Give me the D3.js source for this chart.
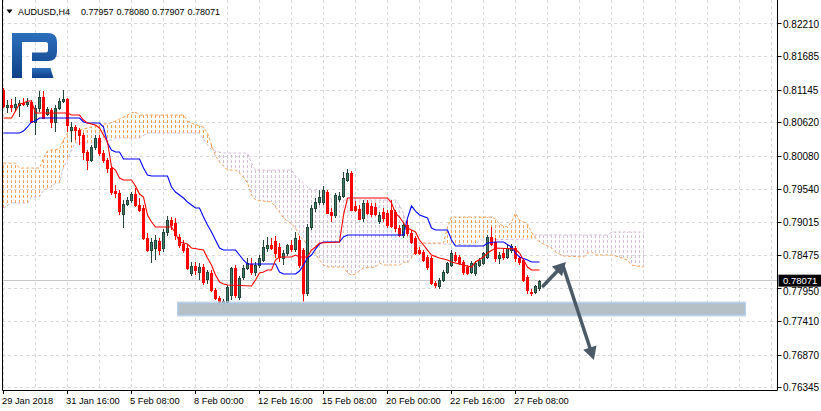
<!DOCTYPE html>
<html><head><meta charset="utf-8">
<script src="https://cdn.jsdelivr.net/npm/d3@7"></script>
<style>
body{margin:0;background:#fff}
svg{display:block}
text{font-family:"Liberation Sans",Arial,sans-serif;fill:#000}
</style>
</head><body><svg id="c" width="821" height="411"></svg>
<script>
// ---------- DATA ----------
const symbol = "AUDUSD,H4";
const headerValues = ["0.77957","0.78080","0.77907","0.78071"];
const lastPrice = 0.78071;
const priceTicks = [0.82210,0.81685,0.81145,0.80620,0.80080,0.79540,0.79015,0.78475,0.77950,0.77410,0.76870,0.76345];
const timeTickBars = [0,16,32,48,64,80,96,112,128];
const timeTickLabels = ["29 Jan 2018","31 Jan 16:00","5 Feb 08:00","8 Feb 00:00","12 Feb 16:00","15 Feb 08:00","20 Feb 00:00","22 Feb 16:00","27 Feb 08:00"];

const opens = [0.81146,0.80872,0.80904,0.80872,0.80904,0.80936,0.80920,0.80952,0.80630,0.80855,
0.81033,0.80759,0.80823,0.80630,0.80855,0.80968,0.81001,0.80501,0.80549,0.80501,
0.80420,0.80146,0.80017,0.80226,0.80371,0.80129,0.80017,0.79887,0.79517,0.79484,
0.79146,0.79307,0.79372,0.79468,0.79291,0.79243,0.78759,0.78565,0.78597,0.78710,
0.78597,0.78856,0.79049,0.79001,0.78775,0.78662,0.78597,0.78195,0.78307,0.78211,
0.78291,0.78098,0.78195,0.77920,0.77791,0.77694,0.77727,0.77840,0.78275,0.77807,
0.78130,0.78275,0.78339,0.78211,0.78323,0.78404,0.78597,0.78646,0.78710,0.78614,
0.78436,0.78517,0.78646,0.78581,0.78727,0.78565,0.77872,0.78936,0.79243,0.79339,
0.79339,0.79500,0.79178,0.79130,0.79388,0.79436,0.79694,0.79807,0.79275,0.79226,
0.79081,0.79323,0.79275,0.79259,0.79033,0.79178,0.79162,0.79210,0.79178,0.78920,
0.78807,0.78968,0.78840,0.78759,0.78565,0.78533,0.78452,0.78436,0.78033,0.77985,
0.78082,0.78211,0.78323,0.78485,0.78452,0.78372,0.78291,0.78211,0.78195,0.78323,
0.78356,0.78452,0.78775,0.78694,0.78436,0.78517,0.78452,0.78565,0.78597,0.78436,
0.78404,0.78130,0.77888,0.77888,0.77957];
const highs = [0.81178,0.80984,0.81001,0.81033,0.80984,0.81017,0.81017,0.80984,0.80904,0.81130,
0.81130,0.80872,0.80855,0.80904,0.81017,0.81146,0.81017,0.80630,0.80581,0.80533,
0.80452,0.80178,0.80258,0.80420,0.80420,0.80178,0.80049,0.79920,0.79613,0.79533,
0.79372,0.79420,0.79500,0.79565,0.79404,0.79291,0.78840,0.78759,0.78807,0.78759,
0.78904,0.79114,0.79097,0.79081,0.78823,0.78727,0.78646,0.78372,0.78372,0.78356,
0.78339,0.78243,0.78243,0.77953,0.77824,0.77775,0.78001,0.78291,0.78323,0.78146,
0.78323,0.78436,0.78436,0.78372,0.78485,0.78727,0.78775,0.78759,0.78791,0.78678,
0.78565,0.78662,0.78727,0.78856,0.78791,0.78597,0.78985,0.79291,0.79404,0.79533,
0.79597,0.79533,0.79243,0.79484,0.79500,0.79823,0.79871,0.79839,0.79355,0.79291,
0.79372,0.79372,0.79323,0.79323,0.79178,0.79243,0.79210,0.79372,0.79210,0.78968,
0.79017,0.79049,0.78888,0.78791,0.78614,0.78565,0.78485,0.78469,0.78065,0.78114,
0.78243,0.78372,0.78565,0.78533,0.78485,0.78404,0.78323,0.78388,0.78388,0.78436,
0.78533,0.78807,0.78936,0.78759,0.78533,0.78597,0.78646,0.78662,0.78630,0.78469,
0.78436,0.78162,0.77936,0.78001,0.78080];
const lows = [0.80855,0.80775,0.80791,0.80791,0.80710,0.80888,0.80872,0.80613,0.80420,0.80791,
0.80678,0.80726,0.80533,0.80468,0.80823,0.80936,0.80468,0.80307,0.80339,0.80258,
0.80017,0.79855,0.79984,0.80178,0.80081,0.79968,0.79807,0.79452,0.79404,0.79130,
0.78920,0.79275,0.79323,0.79259,0.79178,0.78727,0.78533,0.78356,0.78404,0.78485,
0.78533,0.78791,0.78888,0.78727,0.78597,0.78517,0.78243,0.78146,0.78162,0.78082,
0.78001,0.78017,0.77888,0.77759,0.77662,0.77598,0.77662,0.77759,0.77791,0.77759,
0.78082,0.78243,0.78162,0.78146,0.78275,0.78372,0.78533,0.78565,0.78436,0.78372,
0.78323,0.78469,0.78533,0.78533,0.78275,0.77727,0.77824,0.78888,0.79178,0.79291,
0.79291,0.79146,0.79017,0.79081,0.79339,0.79404,0.79662,0.79194,0.79178,0.79049,
0.79017,0.79130,0.79097,0.79114,0.78985,0.79017,0.78920,0.78920,0.78856,0.78775,
0.78759,0.78791,0.78662,0.78485,0.78485,0.78372,0.78243,0.78001,0.77953,0.77936,
0.78049,0.78178,0.78291,0.78372,0.78323,0.78162,0.78162,0.78178,0.78146,0.78291,
0.78323,0.78420,0.78630,0.78372,0.78339,0.78404,0.78420,0.78517,0.78372,0.78323,
0.78049,0.77856,0.77824,0.77856,0.77907];
const closes = [0.80888,0.80904,0.80872,0.80920,0.80936,0.80920,0.80952,0.80630,0.80855,0.81033,
0.80694,0.80839,0.80630,0.80855,0.80968,0.81001,0.80581,0.80549,0.80501,0.80420,
0.80146,0.80017,0.80226,0.80371,0.80129,0.80017,0.79887,0.79500,0.79484,0.79194,
0.79307,0.79372,0.79468,0.79291,0.79210,0.78759,0.78565,0.78694,0.78727,0.78565,
0.78856,0.79049,0.78968,0.78807,0.78646,0.78565,0.78275,0.78307,0.78243,0.78291,
0.78049,0.78211,0.77920,0.77791,0.77694,0.77743,0.77969,0.78275,0.77840,0.78114,
0.78275,0.78356,0.78211,0.78323,0.78436,0.78614,0.78646,0.78597,0.78517,0.78452,
0.78517,0.78646,0.78581,0.78759,0.78323,0.77872,0.78936,0.79243,0.79339,0.79420,
0.79533,0.79162,0.79130,0.79452,0.79436,0.79726,0.79807,0.79210,0.79210,0.79065,
0.79323,0.79162,0.79146,0.79146,0.79130,0.79081,0.78968,0.78952,0.78920,0.78807,
0.78968,0.78840,0.78694,0.78517,0.78517,0.78404,0.78291,0.78033,0.78001,0.78082,
0.78211,0.78356,0.78517,0.78404,0.78356,0.78211,0.78195,0.78356,0.78356,0.78404,
0.78517,0.78775,0.78662,0.78436,0.78485,0.78452,0.78597,0.78630,0.78436,0.78372,
0.78082,0.77920,0.77872,0.77985,0.78071];

// Ichimoku lines as [bar, price] vertices
const tenkan = [[0,0.80694],[2,0.80694],[3,0.80807],[4,0.80920],[5,0.80936],[6,0.80968],[7,0.80968],[8,0.80775],[16,0.80775],[17,0.80742],[19,0.80742],[20,0.80662],[21,0.80613],[23,0.80581],[24,0.80533],[25,0.80420],[26,0.80307],[27,0.79904],[28,0.79855],[29,0.79726],[30,0.79694],[32,0.79694],[33,0.79597],[34,0.79468],[35,0.79420],[36,0.79130],[37,0.79017],[38,0.78936],[42,0.78936],[43,0.78840],[44,0.78694],[46,0.78662],[47,0.78597],[50,0.78565],[51,0.78436],[52,0.78323],[53,0.78162],[54,0.78049],[55,0.78017],[56,0.78001],[62,0.77985],[63,0.78082],[64,0.78195],[65,0.78211],[66,0.78243],[67,0.78243],[68,0.78404],[69,0.78452],[72,0.78452],[73,0.78485],[74,0.78452],[76,0.78452],[77,0.78565],[78,0.78614],[79,0.78678],[84,0.78694],[85,0.79130],[86,0.79404],[96,0.79404],[97,0.79323],[98,0.79162],[99,0.79097],[100,0.79001],[101,0.78920],[102,0.78888],[103,0.78856],[104,0.78727],[105,0.78646],[106,0.78565],[107,0.78485],[109,0.78436],[111,0.78404],[112,0.78372],[117,0.78291],[118,0.78372],[120,0.78452],[121,0.78517],[123,0.78597],[128,0.78581],[129,0.78517],[130,0.78404],[131,0.78291],[132,0.78243],[134,0.78243]];
const kijun = [[0,0.80452],[4,0.80452],[5,0.80484],[6,0.80549],[7,0.80630],[8,0.80646],[9,0.80694],[19,0.80694],[20,0.80630],[21,0.80613],[24,0.80613],[25,0.80549],[26,0.80291],[27,0.80178],[28,0.80146],[29,0.80146],[30,0.80033],[34,0.80033],[35,0.79887],[36,0.79775],[37,0.79758],[41,0.79758],[42,0.79581],[43,0.79500],[44,0.79452],[45,0.79404],[46,0.79339],[47,0.79291],[48,0.79243],[49,0.79243],[50,0.79097],[51,0.78968],[52,0.78856],[53,0.78727],[54,0.78597],[55,0.78565],[58,0.78565],[59,0.78485],[60,0.78404],[61,0.78339],[68,0.78339],[69,0.78211],[70,0.78178],[73,0.78178],[74,0.78227],[75,0.78323],[76,0.78436],[77,0.78485],[78,0.78581],[79,0.78662],[80,0.78694],[84,0.78694],[85,0.78775],[86,0.78807],[100,0.78807],[101,0.79081],[102,0.79275],[103,0.79194],[104,0.79130],[106,0.79081],[107,0.78920],[108,0.78888],[111,0.78888],[112,0.78727],[113,0.78630],[120,0.78630],[121,0.78678],[123,0.78694],[125,0.78694],[127,0.78614],[128,0.78517],[129,0.78452],[131,0.78404],[132,0.78372],[134,0.78372]];
const spanA = [[0,0.79968],[3,0.79968],[4,0.79887],[9,0.79887],[10,0.80049],[11,0.80162],[12,0.80178],[14,0.80194],[15,0.80339],[16,0.80452],[17,0.80484],[19,0.80501],[20,0.80517],[22,0.80549],[24,0.80597],[26,0.80597],[28,0.80646],[29,0.80678],[30,0.80710],[32,0.80775],[33,0.80791],[34,0.80742],[45,0.80742],[46,0.80646],[47,0.80613],[49,0.80565],[50,0.80549],[51,0.80452],[52,0.80258],[53,0.80081],[54,0.79984],[55,0.79920],[56,0.79855],[58,0.79855],[59,0.79807],[60,0.79742],[61,0.79646],[62,0.79452],[63,0.79372],[67,0.79339],[68,0.79259],[69,0.79178],[70,0.79081],[71,0.79033],[72,0.78985],[73,0.78920],[74,0.78791],[75,0.78727],[76,0.78646],[77,0.78565],[78,0.78501],[79,0.78404],[80,0.78323],[81,0.78291],[85,0.78291],[86,0.78195],[87,0.78162],[88,0.78178],[89,0.78227],[90,0.78275],[93,0.78291],[94,0.78356],[95,0.78323],[99,0.78323],[100,0.78372],[101,0.78356],[102,0.78436],[103,0.78565],[104,0.78614],[105,0.78678],[110,0.78678],[111,0.78936],[112,0.79097],[122,0.79097],[123,0.79065],[124,0.78985],[125,0.78952],[126,0.78936],[127,0.79017],[128,0.79162],[129,0.79049],[130,0.79017],[131,0.78985],[132,0.78856],[133,0.78759],[134,0.78694],[136,0.78630],[137,0.78597],[138,0.78533],[140,0.78469],[145,0.78452],[146,0.78517],[147,0.78533],[148,0.78485],[152,0.78485],[154,0.78452],[156,0.78404],[157,0.78323],[160,0.78291]];
const spanB = [[0,0.79243],[2,0.79323],[6,0.79323],[7,0.79420],[9,0.79420],[10,0.79533],[12,0.79581],[13,0.79646],[14,0.79646],[15,0.79904],[16,0.80017],[17,0.80178],[18,0.80291],[24,0.80291],[25,0.80339],[27,0.80339],[28,0.80371],[34,0.80371],[36,0.80452],[49,0.80452],[51,0.80258],[52,0.80178],[55,0.80129],[61,0.80129],[62,0.79968],[63,0.79855],[72,0.79855],[73,0.79758],[74,0.79694],[75,0.79646],[77,0.79533],[79,0.79500],[81,0.79500],[82,0.79372],[98,0.79372],[99,0.79291],[100,0.79162],[101,0.78888],[102,0.78678],[118,0.78646],[119,0.78727],[132,0.78743],[133,0.78807],[151,0.78807],[152,0.78856],[160,0.78856]];

// Support zone and arrows (bar, price)
const zoneBars = [43.6, 185.4];
const zonePrices = [0.77711, 0.77517];
const arrowUp = [[134.9, 0.77985],[140.6, 0.78372]];
const arrowDown = [[139.9, 0.78307],[147.6, 0.76792]];

// ---------- DRAW ----------
const svg = d3.select("#c");
const x = d3.scaleLinear().domain([0,192]).range([3.5,771.5]);
const y = d3.scaleLinear().domain([0.76308,0.82597]).range([390,0]);
const plotL = 2, plotR = 777.5, plotB = 390;
const crisp = v => Math.round(v) + 0.5;
const orange = "#f4a460", thistle = "#d8bfd8";

svg.append("rect").attr("width",821).attr("height",411).attr("fill","#fff");
const defs = svg.append("defs");

// grid
const grid = svg.append("g").attr("stroke","#d9d9d9").attr("stroke-dasharray","3,3").attr("stroke-width",1);
grid.selectAll(null).data(priceTicks).join("line")
  .attr("x1",plotL).attr("x2",plotR).attr("y1",d=>crisp(y(d)-0.5)).attr("y2",d=>crisp(y(d)-0.5));
grid.selectAll(null).data(d3.range(0,193,8)).join("line")
  .attr("x1",d=>x(d)).attr("x2",d=>x(d)).attr("y1",0).attr("y2",plotB);

// position of a polyline (given by its read vertices) at a bar column
function at(series, i){
  for(let k=0;k<series.length-1;k++){
    const [i0,v0]=series[k],[i1,v1]=series[k+1];
    if(i>=i0 && i<=i1) return i1===i0 ? v0 : v0+(v1-v0)*(i-i0)/(i1-i0);
  }
  return series[series.length-1][1];
}
// cloud hatch: one dotted vertical stroke per bar between the two spans
const cloudBars = d3.range(spanA[0][0], spanA[spanA.length-1][0]+1).map(i=>{
  const a=y(at(spanA,i)), b=y(at(spanB,i));
  return {i, top:Math.round(Math.min(a,b)), bot:Math.round(Math.max(a,b)), up:a<=b};
});
svg.append("g").selectAll("line").data(cloudBars).join("line")
  .attr("x1",d=>x(d.i)).attr("x2",d=>x(d.i))
  .attr("y1",d=>d.top).attr("y2",d=>d.bot)
  .attr("stroke",d=>d.up?orange:thistle)
  .attr("stroke-dasharray","3,2")
  .attr("stroke-dashoffset",d=>d.top%5);
const ln = d3.line().x(d=>x(d[0])).y(d=>y(d[1]));
svg.append("path").attr("d",ln(spanB)).attr("fill","none").attr("stroke",thistle).attr("stroke-dasharray","3,2");
svg.append("path").attr("d",ln(spanA)).attr("fill","none").attr("stroke",orange).attr("stroke-dasharray","3,2");

// current price line
svg.append("line").attr("x1",plotL).attr("x2",plotR).attr("y1",crisp(y(lastPrice)-0.5)).attr("y2",crisp(y(lastPrice)-0.5))
  .attr("stroke","#c8c8c8");

// candles
const bars = opens.map((o,i)=>({i,o,h:highs[i],l:lows[i],c:closes[i]}));
const bullFill="#3b7d63", bullLine="#27443c", bear="#ff0000";
const cnd = svg.append("g");
cnd.selectAll("line").data(bars).join("line")
  .attr("x1",d=>x(d.i)).attr("x2",d=>x(d.i))
  .attr("y1",d=>Math.round(y(d.h))).attr("y2",d=>Math.round(y(d.l)))
  .attr("stroke",d=>d.c>=d.o?bullLine:bear);
cnd.selectAll("rect").data(bars).join("rect")
  .attr("x",d=>x(d.i)-1)
  .attr("width",2)
  .attr("y",d=>crisp(y(Math.max(d.o,d.c))))
  .attr("height",d=>Math.max(1,Math.round(y(Math.min(d.o,d.c)))-Math.round(y(Math.max(d.o,d.c)))))
  .attr("fill",d=>d.c>=d.o?bullFill:bear)
  .attr("stroke",d=>d.c>=d.o?bullLine:bear);

// tenkan / kijun
svg.append("path").attr("d",ln(kijun)).attr("fill","none").attr("stroke","#0000ff").attr("stroke-width",1.1);
svg.append("path").attr("d",ln(tenkan)).attr("fill","none").attr("stroke","#ff0000").attr("stroke-width",1.1);

// support zone
const zx0 = x(zoneBars[0]), zx1 = x(zoneBars[1]);
const zy0 = y(zonePrices[0]), zy1 = y(zonePrices[1]);
svg.append("rect").attr("x",zx0-1).attr("y",zy0-2).attr("width",zx1-zx0+2).attr("height",zy1-zy0+4)
  .attr("fill","#d3d9dd").attr("opacity",0.6);
svg.append("rect").attr("x",zx0).attr("y",zy0).attr("width",zx1-zx0).attr("height",zy1-zy0)
  .attr("fill","#b2bdc5").attr("stroke","#a6c6ec").attr("stroke-width",1.2).attr("opacity",0.95);

// arrows
const P = d=>[x(d[0]),y(d[1])];
function arrow(pts){
  const [x0,y0]=P(pts[0]), [x1,y1]=P(pts[1]);
  const dx=x1-x0, dy=y1-y0, L=Math.hypot(dx,dy), ux=dx/L, uy=dy/L;
  const hl=13, hw=7;
  const bx=x1-ux*hl, by=y1-uy*hl;
  svg.append("line").attr("x1",x0).attr("y1",y0).attr("x2",bx+ux*2).attr("y2",by+uy*2)
    .attr("stroke","#4b5a66").attr("stroke-width",3.5).attr("stroke-linecap","round");
  svg.append("path").attr("d",`M${x1},${y1}L${bx-uy*hw},${by+ux*hw}L${bx+uy*hw},${by-ux*hw}Z`).attr("fill","#4b5a66");
}
arrow(arrowUp); arrow(arrowDown);

// frame
svg.append("path").attr("d",`M2.5,0V${plotB+0.5}H${plotR}V0`).attr("fill","none").attr("stroke","#000");

// price axis
const pa = svg.append("g");
pa.selectAll("line").data(priceTicks).join("line")
  .attr("x1",plotR).attr("x2",plotR+4).attr("y1",d=>crisp(y(d)-0.5)).attr("y2",d=>crisp(y(d)-0.5)).attr("stroke","#000");
// label hidden behind the last-price box is nudged just below it
const lastY = y(lastPrice);
pa.selectAll("text").data(priceTicks).join("text")
  .attr("x",783)
  .attr("y",d=>{ const b=y(d)+3.6; return (Math.abs(y(d)-lastY)<11) ? Math.max(b, lastY+14.6) : b; })
  .attr("font-size","10px").text(d=>d.toFixed(5));
// last price label
svg.append("rect").attr("x",778.5).attr("y",lastY-6).attr("width",43).attr("height",12).attr("fill","#000");
svg.append("text").attr("x",783).attr("y",lastY+3.3).attr("font-size","9.5px").style("fill","#fff").text(lastPrice.toFixed(5));

// time axis
const ta = svg.append("g");
ta.selectAll("line").data(timeTickBars).join("line")
  .attr("x1",d=>x(d)).attr("x2",d=>x(d)).attr("y1",plotB).attr("y2",plotB+4).attr("stroke","#000");
ta.selectAll("text").data(timeTickBars).join("text")
  .attr("x",d=>x(d)-1.5).attr("y",403.5).attr("font-size","9.3px").text((d,i)=>timeTickLabels[i]);

// header
svg.append("path").attr("d","M6.5,9.5L12.5,9.5L9.5,13.5Z").attr("fill","#000");
svg.append("text").attr("x",18).attr("y",15).attr("font-size","9px").text(symbol);
svg.selectAll("text.hv").data(headerValues).join("text").attr("class","hv")
  .attr("x",(d,i)=>81+i*35.5).attr("y",15).attr("font-size","9px").text(d=>d);

// logo
const lg = defs.append("linearGradient").attr("id","lg").attr("x1",0).attr("y1",0).attr("x2",0).attr("y2",1);
lg.append("stop").attr("offset","0").attr("stop-color","#2c6fbd");
lg.append("stop").attr("offset","1").attr("stop-color","#0f3f86");
svg.append("path").attr("fill","url(#lg)")
  .attr("d","M12,33H48Q57,33 57,42V52Q57,61 48,61H32V52.5H45.5Q48,52.5 48,50V44.5Q48,42 45.5,42H22V78H12Z");
svg.append("path").attr("fill","url(#lg)").attr("d","M32,68H50.5L53.5,78H32Z");
</script>
</body></html>
